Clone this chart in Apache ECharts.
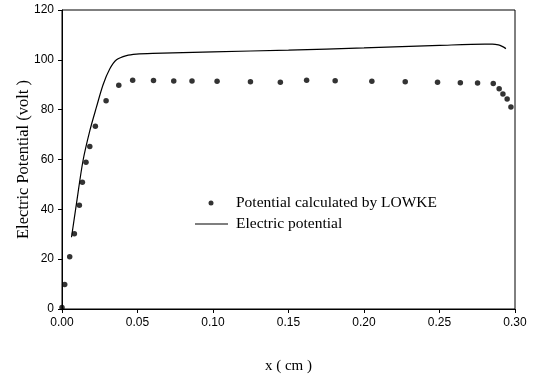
<!DOCTYPE html>
<html><head><meta charset="utf-8">
<script src="https://cdn.jsdelivr.net/npm/echarts@6/dist/echarts.min.js"></script>
<style>html,body{margin:0;padding:0;background:#fff}#c{width:541px;height:378px}</style>
</head><body><div id="c"></div>
<script>
const lowkeX = [0.0, 0.0018, 0.0051, 0.0082, 0.0115, 0.0135, 0.0159, 0.0184, 0.0221, 0.0292, 0.0376, 0.0468, 0.0606, 0.0740, 0.0861, 0.1027, 0.1248, 0.1446, 0.1620, 0.1809, 0.2052, 0.2273, 0.2487, 0.2638, 0.2752, 0.2856, 0.2895, 0.2920, 0.2948, 0.2973];
const lowkeY = [0.6, 9.8, 21.0, 30.2, 41.6, 50.9, 58.9, 65.2, 73.3, 83.6, 89.8, 91.8, 91.7, 91.5, 91.5, 91.4, 91.2, 91.0, 91.8, 91.6, 91.4, 91.2, 91.0, 90.8, 90.7, 90.5, 88.4, 86.3, 84.3, 81.1];
const potX = [0.0063, 0.0095, 0.0139, 0.0184, 0.0228, 0.0272, 0.0316, 0.0361, 0.0427, 0.0493, 0.06, 0.10, 0.15, 0.20, 0.25, 0.28, 0.285, 0.289, 0.2915, 0.294];
const potY = [28.8, 42.0, 59.5, 71.5, 81.0, 90.0, 96.3, 100.0, 101.7, 102.3, 102.6, 103.2, 103.9, 104.8, 105.8, 106.3, 106.3, 106.0, 105.4, 104.5];
const xTicks = [0, 0.05, 0.10, 0.15, 0.20, 0.25, 0.30];
const yTicks = [0, 20, 40, 60, 80, 100, 120];
const lowkeName = 'Potential calculated by LOWKE';
const potName = 'Electric potential';

const chart = echarts.init(document.getElementById('c'), null, {renderer: 'canvas'});
const serif = '"Liberation Serif", "DejaVu Serif", serif';
const sans = '"Liberation Sans", Arial, sans-serif';
chart.setOption({
  animation: false,
  backgroundColor: '#fff',
  grid: {left: 62, right: 26, top: 10, bottom: 69, outerBoundsMode: 'none', containLabel: false,
         show: true, borderColor: '#000', borderWidth: 1, backgroundColor: 'transparent'},
  legend: [
    {data: [lowkeName], icon: 'circle', itemWidth: 5, itemHeight: 5, left: 203.5, top: 190,
     textStyle: {fontFamily: serif, fontSize: 15.5, color: '#000', padding: [0, 0, 0, 17.5]}},
    {data: [potName], icon: 'rect', itemWidth: 33, itemHeight: 1, left: 190, top: 211,
     textStyle: {fontFamily: serif, fontSize: 15.5, color: '#000', padding: [0, 0, 0, 3]}}
  ],
  xAxis: {
    type: 'value', min: xTicks[0], max: xTicks[xTicks.length - 1], interval: 0.05,
    name: 'x ( cm )', nameLocation: 'middle', nameGap: 50,
    nameTextStyle: {fontFamily: serif, fontSize: 15, color: '#000'},
    axisLine: {show: true, lineStyle: {color: '#000', width: 1}},
    axisTick: {show: true, inside: false, length: 4, lineStyle: {color: '#000'}},
    axisLabel: {fontFamily: sans, fontSize: 12, color: '#000', margin: 8, formatter: v => v.toFixed(2)},
    splitLine: {show: false}
  },
  yAxis: {
    type: 'value', min: yTicks[0], max: yTicks[yTicks.length - 1], interval: 20,
    name: 'Electric Potential (volt )', nameLocation: 'middle', nameGap: 30, nameRotate: 90,
    nameMoveOverlap: false,
    nameTextStyle: {fontFamily: serif, fontSize: 16.5, color: '#000'},
    axisLine: {show: true, lineStyle: {color: '#000', width: 1}},
    axisTick: {show: true, inside: false, length: 4, lineStyle: {color: '#000'}},
    axisLabel: {fontFamily: sans, fontSize: 12, color: '#000', margin: 8},
    splitLine: {show: false}
  },
  series: [
    {name: lowkeName, type: 'scatter', symbol: 'circle', symbolSize: 5.5,
     itemStyle: {color: '#000'}, data: lowkeX.map((x, i) => [x, lowkeY[i]])},
    {name: potName, type: 'line', symbol: 'none', smooth: 0.3,
     lineStyle: {color: '#000', width: 1.2}, itemStyle: {color: '#000'},
     data: potX.map((x, i) => [x, potY[i]])}
  ]
});
</script></body></html>
